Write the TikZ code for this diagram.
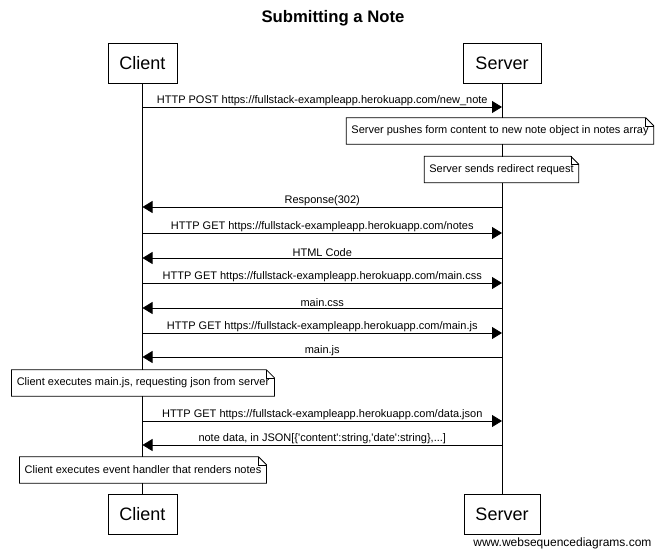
\documentclass[tikz,border=0pt]{standalone}
\usepackage{fontspec}
\setmainfont{Liberation Sans}
\usetikzlibrary{arrows.meta}
\begin{document}
\begin{tikzpicture}[x=1pt,y=-1pt,
  actor/.style={draw, fill=white, minimum height=40pt, inner sep=0pt, font=\fontsize{18}{20}\selectfont},
  life/.style={draw, line width=0.8pt},
  msg/.style={draw, line width=0.8pt, -{Triangle[length=10pt,width=12pt]}},
  lbl/.style={font=\fontsize{11}{12}\selectfont, inner sep=1pt, anchor=south},
  notebox/.style={fill=white, inner xsep=5pt, inner ysep=0pt, minimum height=26pt, font=\fontsize{11}{12}\selectfont}
]
\useasboundingbox (0,0) rectangle (665,555);
\node[font=\bfseries\fontsize{16.7}{18}\selectfont] (title) at (333,18) {Submitting a Note};
\node[actor, minimum width=69pt] (ct) at (142.5,63) {Client};
\node[actor, minimum width=78pt] (st) at (502,63) {Server};
\node[actor, minimum width=69pt] (cb) at (142.5,514) {Client};
\node[actor, minimum width=76pt] (sb) at (502,514) {Server};
\draw[life] (ct.south) -- (cb.north);
\draw[life] (st.south) -- (sb.north);
\node[font=\fontsize{12}{14}\selectfont, anchor=east] (wm) at (655,543) {www.websequencediagrams.com};
% message coordinates
\foreach \i/\y in {1/107,4/207,5/233,6/258,7/283,8/308,9/333,10/357,12/421,13/445}{
  \coordinate (c\i) at (142.5,\y);
  \coordinate (s\i) at (502,\y);
}
\draw[msg] (c1) -- node[lbl] {HTTP POST https://fullstack-exampleapp.herokuapp.com/new\_note} (s1);
\draw[msg] (s4) -- node[lbl] {Response(302)} (c4);
\draw[msg] (c5) -- node[lbl] {HTTP GET https://fullstack-exampleapp.herokuapp.com/notes} (s5);
\draw[msg] (s6) -- node[lbl] {HTML Code} (c6);
\draw[msg] (c7) -- node[lbl] {HTTP GET https://fullstack-exampleapp.herokuapp.com/main.css} (s7);
\draw[msg] (s8) -- node[lbl] {main.css} (c8);
\draw[msg] (c9) -- node[lbl] {HTTP GET https://fullstack-exampleapp.herokuapp.com/main.js} (s9);
\draw[msg] (s10) -- node[lbl] {main.js} (c10);
\draw[msg] (c12) -- node[lbl] {HTTP GET https://fullstack-exampleapp.herokuapp.com/data.json} (s12);
\draw[msg] (s13) -- node[lbl] {note data, in JSON[\{\textquotesingle content\textquotesingle:string,\textquotesingle date\textquotesingle:string\},...]} (c13);
% notes
\node[notebox] (n1) at (500,131) {Server pushes form content to new note object in notes array};
\node[notebox] (n2) at (501.5,169.5) {Server sends redirect request};
\node[notebox] (n3) at (143,383) {Client executes main.js, requesting json from server};
\node[notebox] (n4) at (143,470) {Client executes event handler that renders notes};
\foreach \n in {n1,n2,n3,n4}{
  \draw[line width=0.8pt] (\n.south west) -- (\n.north west) -- ([xshift=-8pt]\n.north east) -- ([yshift=-8pt]\n.north east) -- (\n.south east) -- cycle;
  \draw[line width=0.6pt] ([xshift=-8pt]\n.north east) -- ([xshift=-8pt,yshift=-8pt]\n.north east) -- ([yshift=-8pt]\n.north east);
}
\end{tikzpicture}
\end{document}
